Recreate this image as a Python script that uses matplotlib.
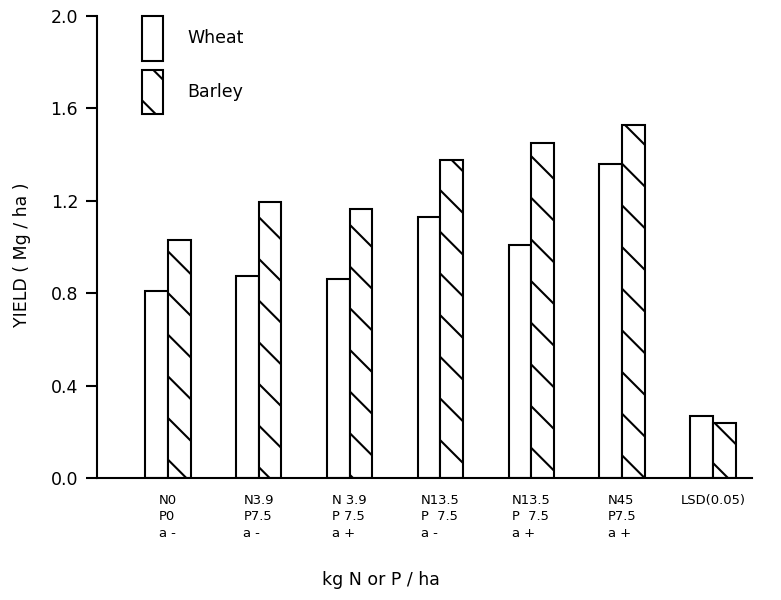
import matplotlib
matplotlib.use("Agg")
import matplotlib.pyplot as plt
import numpy as np

categories = ["N0\nP0\na -", "N3.9\nP7.5\na -", "N 3.9\nP 7.5\na +",
              "N13.5\nP  7.5\na -", "N13.5\nP  7.5\na +", "N45\nP7.5\na +",
              "LSD(0.05)"]
wheat = [0.81, 0.875, 0.86, 1.13, 1.01, 1.36, 0.27]
barley = [1.03, 1.195, 1.165, 1.375, 1.45, 1.53, 0.24]
yticks = [0.0, 0.4, 0.8, 1.2, 1.6, 2.0]
ytick_labels = ["0.0", "0.4", "0.8", "1.2", "1.6", "2.0"]

DPI = 125
W, H = 781, 600
plt.rcParams['font.family'] = ['DejaVu Sans']
plt.rcParams['hatch.linewidth'] = 1.2
plt.rcParams['hatch.color'] = 'black'

fig = plt.figure(figsize=(W / DPI, H / DPI), dpi=DPI)
ax = fig.add_axes([97 / W, (H - 478) / H, (752 - 97) / W, (478 - 16) / H])

x = np.arange(len(categories))
bw = 0.25
lw = 1.2
ax.bar(x - bw / 2, wheat, bw, facecolor='white', edgecolor='black',
       linewidth=lw, label='Wheat')
ax.bar(x + bw / 2, barley, bw, facecolor='white', edgecolor='black',
       linewidth=lw, hatch='\\', label='Barley')

ax.set_xlim(-0.78, 6.43)
ax.set_ylim(0, 2.0)
for s in ['top', 'right']:
    ax.spines[s].set_visible(False)
ax.spines['left'].set_linewidth(1.2)
ax.spines['bottom'].set_linewidth(1.2)

ax.set_yticks(yticks)
ax.set_yticklabels(ytick_labels, fontsize=10)
ax.tick_params(axis='y', length=6.3, width=1.2, pad=4.5)
ax.set_xticks(x)
ax.set_xticklabels(categories, fontsize=7.6, multialignment='left',
                   linespacing=1.35)
ax.tick_params(axis='x', length=0, pad=9)

fig.text(22 / W, 1 - 255 / H, "YIELD ( Mg / ha )", rotation=90,
         ha='center', va='center', fontsize=10)
fig.text(381 / W, 1 - 580 / H, "kg N or P / ha", ha='center', va='center',
         fontsize=10)

leg = ax.legend(loc='upper left', bbox_to_anchor=(142 / W, 1 - 16 / H),
                bbox_transform=fig.transFigure, frameon=False, fontsize=10,
                handlelength=1.2, handleheight=3.6, handletextpad=1.4,
                labelspacing=0.5, borderpad=0, borderaxespad=0)

fig.savefig("out.png", dpi=DPI)
